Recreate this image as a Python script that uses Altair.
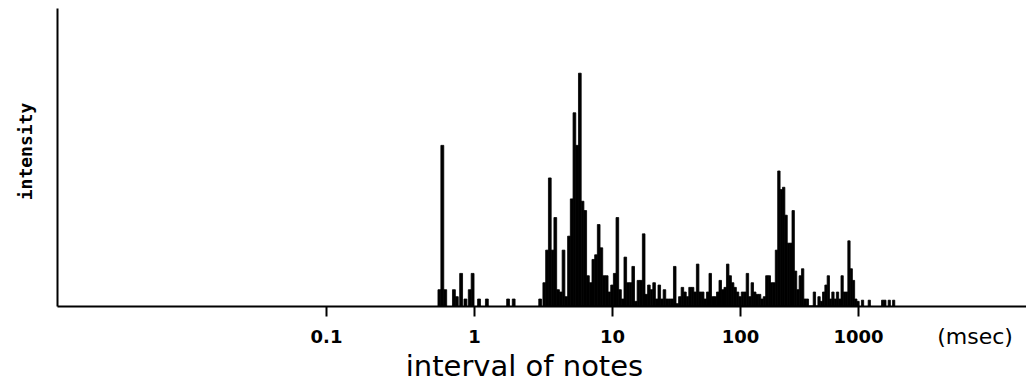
import math
import altair as alt
import pandas as pd

# ---- data (x = log10 of the interval in msec) ----
SPARSE_LOG_MS = [-0.24, -0.22, -0.20, -0.14, -0.12, -0.09, -0.06, -0.03, -0.01,
                 0.035, 0.09, 0.24, 0.28, 0.47,
                 3.04, 3.10, 3.22, 3.24, 3.28, 3.32]
SPARSE_INTENSITY = [7, 69, 7, 7, 4, 14, 3, 7, 14,
                    3, 3, 3, 3, 3,
                    2.5, 2.5, 2.5, 2.5, 2.5, 2.5]

DENSE_LOG_MS = [
    0.50, 0.52, 0.54, 0.56, 0.58, 0.60, 0.62, 0.64, 0.66, 0.68,
    0.70, 0.72, 0.74, 0.76, 0.78, 0.80, 0.82, 0.84, 0.86, 0.88,
    0.90, 0.92, 0.94, 0.96, 0.98, 1.00, 1.02, 1.04, 1.06, 1.08,
    1.10, 1.12, 1.14, 1.16, 1.18, 1.20, 1.22, 1.24, 1.26, 1.28,
    1.30, 1.32, 1.34, 1.36, 1.38, 1.40, 1.42, 1.44, 1.46, 1.48,
    1.50, 1.52, 1.54, 1.56, 1.58, 1.60, 1.62, 1.64, 1.66, 1.68,
    1.70, 1.72, 1.74, 1.76, 1.78, 1.80, 1.82, 1.84, 1.86, 1.88,
    1.90, 1.92, 1.94, 1.96, 1.98, 2.00, 2.02, 2.04, 2.06, 2.08,
    2.10, 2.12, 2.14, 2.16, 2.18, 2.20, 2.22, 2.24, 2.26, 2.28,
    2.30, 2.32, 2.34, 2.36, 2.38, 2.40, 2.42, 2.44, 2.46, 2.48,
    2.50, 2.52, 2.54, 2.56, 2.58, 2.60, 2.62, 2.64, 2.66, 2.68,
    2.70, 2.72, 2.74, 2.76, 2.78, 2.80, 2.82, 2.84, 2.86, 2.88,
    2.90, 2.92, 2.94, 2.96, 2.98, 3.00,
]
DENSE_INTENSITY = [
    10, 24, 55, 24, 38, 7, 6, 24, 4, 30,
    46, 83, 69, 100, 45, 41, 13, 10, 20, 22,
    35, 25, 13, 13, 6, 9, 14, 38, 7, 3,
    21, 10, 10, 17, 2, 11, 11, 31, 5, 9,
    7, 10, 3, 9, 3, 7, 3, 3, 3, 17,
    1, 4, 8, 6, 4, 8, 8, 6, 18, 6,
    6, 3, 6, 14, 4, 4, 6, 11, 7, 8,
    18, 13, 10, 8, 6, 4, 6, 6, 14, 4,
    10, 6, 5, 5, 3, 4, 13, 13, 10, 10,
    24, 58, 50, 51, 39, 27, 27, 41, 15, 7,
    13, 16, 3, 3, 0, 0, 6, 0, 4, 2,
    6, 9, 13, 3, 6, 3, 6, 3, 13, 6,
    6, 28, 16, 11, 3, 2,
]

TICK_MS = [0.1, 1, 10, 100, 1000]
TICK_LABELS = ["0.1", "1", "10", "100", "1000"]
UNIT_LABEL = ["(msec)"]

# ---- build table ----
df = pd.DataFrame({
    "logt": SPARSE_LOG_MS + DENSE_LOG_MS,
    "intensity": SPARSE_INTENSITY + DENSE_INTENSITY,
})

K = 0.035      # slight compression of the original's log axis
HALF = 0.01    # half bin width in decades


def warp(d):
    return d - K * d * d


tick_vals = [warp(math.log10(t)) for t in TICK_MS]
expr = "'%s'" % TICK_LABELS[-1]
for i in reversed(range(len(TICK_LABELS) - 1)):
    mid = (tick_vals[i] + tick_vals[i + 1]) / 2
    expr = "datum.value < %f ? '%s' : (%s)" % (mid, TICK_LABELS[i], expr)

x_domain = [warp(-2.667), warp(4.60)]

bars = alt.Chart(df).transform_calculate(
    lo="(datum.logt - %f) - %f * pow(datum.logt - %f, 2)" % (HALF, K, HALF),
    hi="(datum.logt + %f) - %f * pow(datum.logt + %f, 2)" % (HALF, K, HALF),
).mark_bar(color="black", stroke="black", strokeWidth=0.8).encode(
    x=alt.X("lo:Q",
            scale=alt.Scale(domain=x_domain, nice=False, zero=False),
            axis=alt.Axis(values=tick_vals, labelExpr=expr,
                          title="interval of notes", grid=False,
                          domainColor="black", domainWidth=2,
                          tickColor="black", tickWidth=2, tickSize=10,
                          labelFont="DejaVu Sans", labelFontWeight="bold",
                          labelFontSize=18, labelColor="black",
                          labelPadding=12, labelFlush=False,
                          titleFont="DejaVu Sans", titleFontSize=29,
                          titleFontWeight="normal", titleColor="black",
                          titleX=467, titleY=69, titleAlign="center",
                          titleBaseline="alphabetic")),
    x2="hi:Q",
    y=alt.Y("intensity:Q",
            scale=alt.Scale(domain=[0, 128], nice=False),
            axis=alt.Axis(title="intensity", ticks=False, labels=False,
                          grid=False, domainColor="black", domainWidth=2,
                          titleFont="DejaVu Sans Mono", titleFontSize=18,
                          titleFontWeight="bold", titleColor="black",
                          titleX=-31, titleY=143, titleAngle=270,
                          titleAlign="center", titleBaseline="middle")),
    y2=alt.datum(0),
)

unit = alt.Chart(pd.DataFrame({"t": UNIT_LABEL})).mark_text(
    font="DejaVu Sans", fontSize=22, color="black",
    align="center", baseline="middle",
).encode(text="t:N", x=alt.value(918), y=alt.value(329))

chart = alt.layer(bars, unit).properties(
    width=969, height=298,
    autosize=alt.AutoSizeParams(type="none"),
    padding={"left": 49, "top": 0, "right": 0, "bottom": 75},
).configure_view(strokeWidth=0)

chart.save("out.html", embed_options={"renderer": "svg", "actions": False})
